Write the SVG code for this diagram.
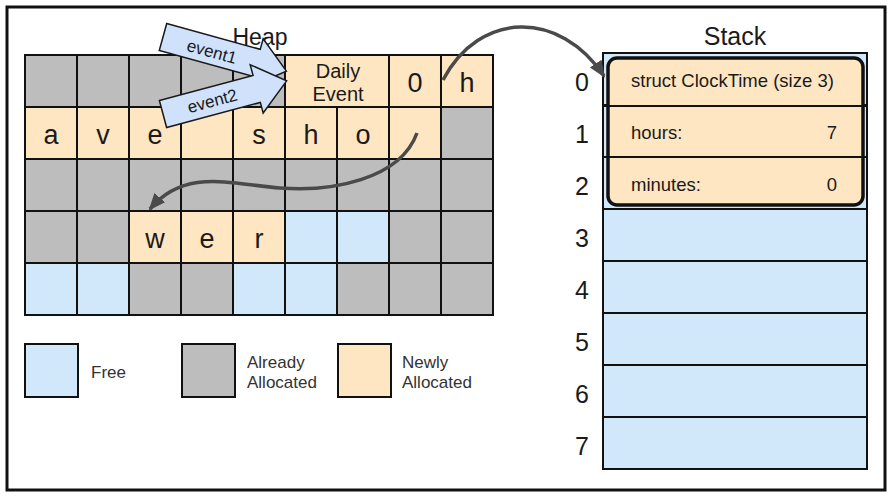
<svg xmlns="http://www.w3.org/2000/svg" width="890" height="498" viewBox="0 0 890 498">
<style>
text{font-family:"Liberation Sans",Arial,sans-serif;fill:#1a1a1a}
.g{fill:#bdbdbd;stroke:#111;stroke-width:2}
.t{fill:#fee6c2;stroke:#111;stroke-width:2}
.b{fill:#d0e8fa;stroke:#111;stroke-width:2}
.L{font-size:27px;text-anchor:middle}
.N{font-size:25px;text-anchor:middle}
.S{font-size:18.5px}
.lg{font-size:17px;fill:#333}
.ev{fill:#cfe1fb;stroke:#1a1a1a;stroke-width:1.5}
.evt{font-size:17px;text-anchor:middle}
.con{fill:none;stroke:#4a4a4a;stroke-width:3.5}
</style>
<defs>
<marker id="ah" markerUnits="userSpaceOnUse" markerWidth="18" markerHeight="16" refX="15" refY="8" orient="auto">
<path d="M0,1 L17,8 L0,15 z" fill="#4a4a4a"/>
</marker>
</defs>
<rect x="7" y="7" width="878" height="483" fill="#fff" stroke="#111" stroke-width="3"/>

<g id="heap">
<text x="260" y="45" font-size="23" text-anchor="middle">Heap</text>
<!-- row 0 -->
<rect class="g" x="25" y="55" width="52" height="52"/>
<rect class="g" x="77" y="55" width="52" height="52"/>
<rect class="g" x="129" y="55" width="52" height="52"/>
<rect class="g" x="181" y="55" width="52" height="52"/>
<rect class="g" x="233" y="55" width="52" height="52"/>
<g id="cell-daily"><rect class="t" x="285" y="55" width="104" height="52"/>
<text x="338" y="78" font-size="20" text-anchor="middle">Daily</text>
<text x="338" y="101" font-size="20" text-anchor="middle">Event</text></g>
<g id="cell-0"><rect class="t" x="389" y="55" width="52" height="52"/><text class="L" x="415" y="92">0</text></g>
<g id="cell-h1"><rect class="t" x="441" y="55" width="52" height="52"/><text class="L" x="467" y="92">h</text></g>
<!-- row 1 -->
<g id="cell-a"><rect class="t" x="25" y="107" width="52" height="52"/><text class="L" x="51" y="144">a</text></g>
<g id="cell-v"><rect class="t" x="77" y="107" width="52" height="52"/><text class="L" x="103" y="144">v</text></g>
<g id="cell-e1"><rect class="t" x="129" y="107" width="52" height="52"/><text class="L" x="155" y="144">e</text></g>
<rect class="t" x="181" y="107" width="52" height="52"/>
<g id="cell-s"><rect class="t" x="233" y="107" width="52" height="52"/><text class="L" x="259" y="144">s</text></g>
<g id="cell-h2"><rect class="t" x="285" y="107" width="52" height="52"/><text class="L" x="311" y="144">h</text></g>
<g id="cell-o"><rect class="t" x="337" y="107" width="52" height="52"/><text class="L" x="363" y="144">o</text></g>
<rect class="t" x="389" y="107" width="52" height="52"/>
<rect class="g" x="441" y="107" width="52" height="52"/>
<!-- row 2 -->
<rect class="g" x="25" y="159" width="52" height="52"/>
<rect class="g" x="77" y="159" width="52" height="52"/>
<rect class="g" x="129" y="159" width="52" height="52"/>
<rect class="g" x="181" y="159" width="52" height="52"/>
<rect class="g" x="233" y="159" width="52" height="52"/>
<rect class="g" x="285" y="159" width="52" height="52"/>
<rect class="g" x="337" y="159" width="52" height="52"/>
<rect class="g" x="389" y="159" width="52" height="52"/>
<rect class="g" x="441" y="159" width="52" height="52"/>
<!-- row 3 -->
<rect class="g" x="25" y="211" width="52" height="52"/>
<rect class="g" x="77" y="211" width="52" height="52"/>
<g id="cell-w"><rect class="t" x="129" y="211" width="52" height="52"/><text class="L" x="155" y="248">w</text></g>
<g id="cell-e2"><rect class="t" x="181" y="211" width="52" height="52"/><text class="L" x="207" y="248">e</text></g>
<g id="cell-r"><rect class="t" x="233" y="211" width="52" height="52"/><text class="L" x="259" y="248">r</text></g>
<rect class="b" x="285" y="211" width="52" height="52"/>
<rect class="b" x="337" y="211" width="52" height="52"/>
<rect class="g" x="389" y="211" width="52" height="52"/>
<rect class="g" x="441" y="211" width="52" height="52"/>
<!-- row 4 -->
<rect class="b" x="25" y="263" width="52" height="52"/>
<rect class="b" x="77" y="263" width="52" height="52"/>
<rect class="g" x="129" y="263" width="52" height="52"/>
<rect class="g" x="181" y="263" width="52" height="52"/>
<rect class="b" x="233" y="263" width="52" height="52"/>
<rect class="b" x="285" y="263" width="52" height="52"/>
<rect class="g" x="337" y="263" width="52" height="52"/>
<rect class="g" x="389" y="263" width="52" height="52"/>
<rect class="g" x="441" y="263" width="52" height="52"/>
</g>

<g id="stack">
<text x="735" y="45" font-size="25" text-anchor="middle">Stack</text>
<rect class="b" x="603" y="53" width="264" height="52"/>
<rect class="b" x="603" y="105" width="264" height="52"/>
<rect class="b" x="603" y="157" width="264" height="52"/>
<rect class="b" x="603" y="209" width="264" height="52"/>
<rect class="b" x="603" y="261" width="264" height="52"/>
<rect class="b" x="603" y="313" width="264" height="52"/>
<rect class="b" x="603" y="365" width="264" height="52"/>
<rect class="b" x="603" y="417" width="264" height="52"/>
<text class="N" x="582" y="91">0</text>
<text class="N" x="582" y="143">1</text>
<text class="N" x="582" y="195">2</text>
<text class="N" x="582" y="247">3</text>
<text class="N" x="582" y="299">4</text>
<text class="N" x="582" y="351">5</text>
<text class="N" x="582" y="403">6</text>
<text class="N" x="582" y="455">7</text>
</g>

<g id="struct">
<rect x="608" y="58" width="255" height="147" rx="9" fill="#fee6c2" stroke="#111" stroke-width="3.5"/>
<line x1="603" y1="106" x2="867" y2="106" stroke="#111" stroke-width="2"/>
<line x1="603" y1="157" x2="867" y2="157" stroke="#111" stroke-width="2"/>
<text class="S" x="631" y="87">struct ClockTime (size 3)</text>
<text class="S" x="631" y="139">hours:</text>
<text class="S" x="837" y="139" text-anchor="end">7</text>
<text class="S" x="631" y="191">minutes:</text>
<text class="S" x="837" y="191" text-anchor="end">0</text>
</g>

<g id="legend">
<g id="legend-free"><rect class="b" x="25" y="344" width="53" height="53"/><text class="lg" x="91" y="378">Free</text></g>
<g id="legend-already"><rect class="g" x="182" y="344" width="53" height="53"/><text class="lg" x="247" y="368">Already</text><text class="lg" x="247" y="388">Allocated</text></g>
<g id="legend-newly"><rect class="t" x="338" y="344" width="53" height="53"/><text class="lg" x="402" y="368">Newly</text><text class="lg" x="402" y="388">Allocated</text></g>
</g>

<g id="connectors">
<path class="con" d="M443,80 C480,10 560,10 604,76" marker-end="url(#ah)"/>
<path class="con" d="M417,133 C400,180 330,192 280,188 C230,184 185,168 150,209" marker-end="url(#ah)"/>
<g id="event1" transform="translate(163,37) rotate(15.45)">
<polygon class="ev" points="0,-14 97,-14 97,-25 128,0 97,25 97,14 0,14"/>
<text class="evt" x="51" y="7">event1</text>
</g>
<g id="event2" transform="translate(163,114) rotate(-15)">
<polygon class="ev" points="0,-14 97,-14 97,-25 128,0 97,25 97,14 0,14"/>
<text class="evt" x="51" y="6">event2</text>
</g>
</g>
</svg>
